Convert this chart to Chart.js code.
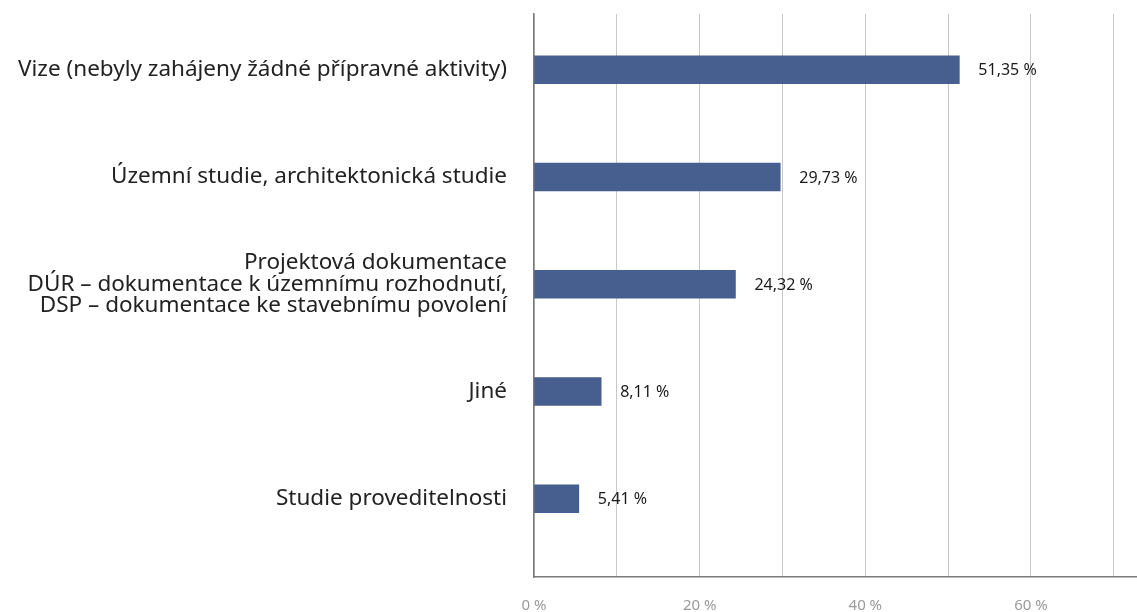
<!DOCTYPE html>
<html>
<head>
<meta charset="utf-8">
<script src="https://cdn.jsdelivr.net/npm/chart.js@4"></script>
<style>
  html, body { margin: 0; padding: 0; background: #fff; }
  #wrap { width: 1137px; height: 612px; }
</style>
</head>
<body>
<div id="wrap"><canvas id="graf"></canvas></div>
<script>
// data
const categories = [
    'Vize (nebyly zahájeny žádné přípravné aktivity)',
    'Územní studie, architektonická studie',
    ['Projektová dokumentace', 'DÚR – dokumentace k územnímu rozhodnutí,', 'DSP – dokumentace ke stavebnímu povolení'],
    'Jiné',
    'Studie proveditelnosti'
];
const values = [51.35, 29.73, 24.32, 8.11, 5.41];
const gridSteps = [0, 10, 20, 30, 40, 50, 60, 70];
const labeledTicks = [0, 20, 40, 60];

const fmt = v => v.toFixed(2).replace('.', ',') + ' %';

// popisky hodnot za koncem sloupce
const valueLabels = {
    id: 'valueLabels',
    afterDatasetsDraw(chart) {
        const ctx = chart.ctx;
        const meta = chart.getDatasetMeta(0);
        ctx.save();
        ctx.font = '16px "Noto Sans"';
        ctx.fillStyle = '#1a1a1a';
        ctx.textBaseline = 'middle';
        meta.data.forEach((bar, i) => {
            ctx.fillText(fmt(values[i]), bar.x + 19, bar.y + 1);
        });
        ctx.restore();
    }
};

new Chart(document.getElementById('graf'), {
    type: 'bar',
    data: {
        datasets: [{
            data: values.map((v, i) => ({ x: v, y: i })),
            backgroundColor: '#465f8e',
            barThickness: 28
        }]
    },
    options: {
        indexAxis: 'y',
        responsive: true,
        maintainAspectRatio: false,
        animation: false,
        layout: { padding: { top: 14, right: 0, left: 0, bottom: 0 } },
        plugins: {
            legend: { display: false },
            tooltip: { enabled: false }
        },
        scales: {
            x: {
                type: 'linear',
                min: 0,
                max: 72.8,
                afterBuildTicks: s => { s.ticks = gridSteps.map(v => ({ value: v })); },
                afterFit: s => { s.height = 35; },
                grid: { color: '#c8c8c8', drawTicks: false },
                border: { color: '#7a7a7a', width: 1.5 },
                ticks: {
                    padding: 20,
                    color: '#9a9a9a',
                    font: { family: 'Noto Sans', size: 15 },
                    maxRotation: 0,
                    autoSkip: false,
                    callback: v => labeledTicks.includes(v) ? v + ' %' : ''
                }
            },
            y: {
                type: 'linear',
                reverse: true,
                offset: false,
                grace: 0,
                min: -0.52,
                max: 4.73,
                afterBuildTicks: s => { s.ticks = categories.map((c, i) => ({ value: i })); },
                afterFit: s => { s.width = 534; s.paddingTop = 0; s.paddingBottom = 0; },
                grid: { display: false, drawTicks: false },
                border: { display: true, color: '#7a7a7a', width: 1.5 },
                ticks: {
                    padding: 27,
                    color: '#222',
                    autoSkip: false,
                    font: { family: 'Noto Sans', size: 22.5, lineHeight: 0.97 },
                    callback: v => categories[v]
                }
            }
        }
    },
    plugins: [valueLabels]
});
</script>
</body>
</html>
